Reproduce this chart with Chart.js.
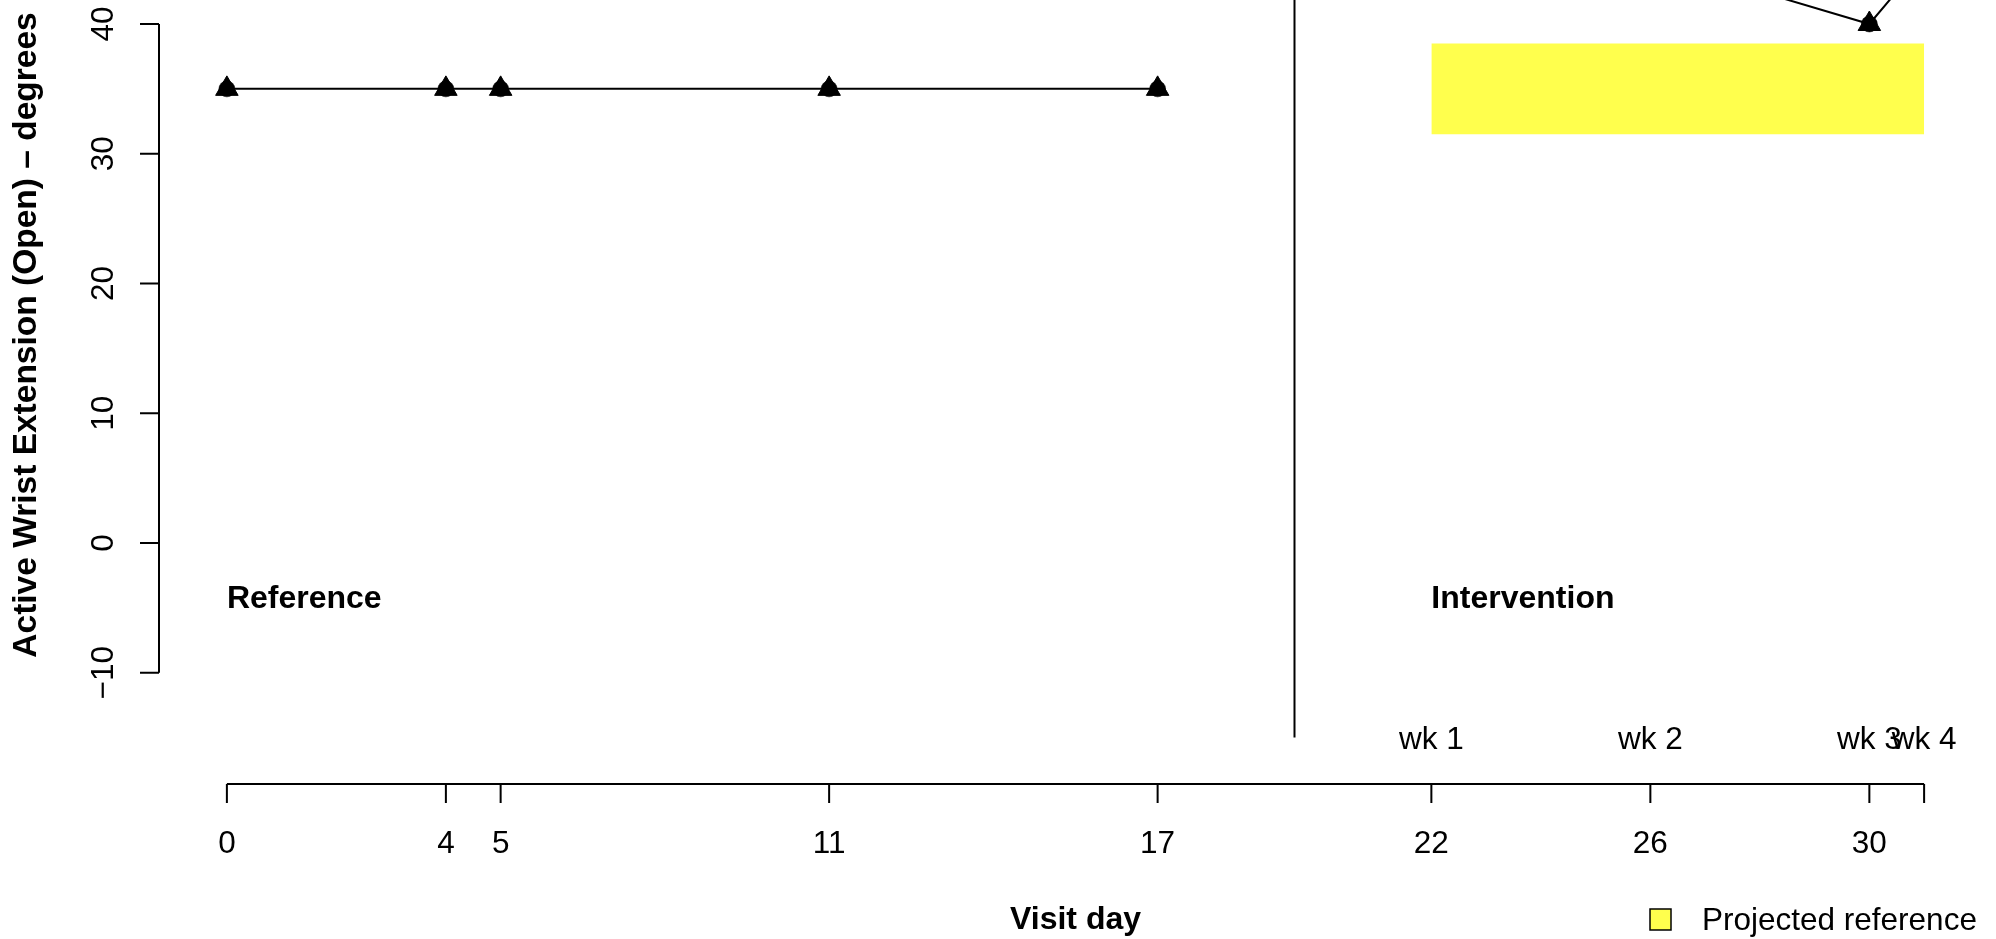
<!DOCTYPE html>
<html>
<head>
<meta charset="utf-8">
<title>Active Wrist Extension (Open)</title>
<script src="https://cdn.jsdelivr.net/npm/chart.js@4.4.1/dist/chart.umd.min.js"></script>
<style>
  html, body { margin: 0; padding: 0; background: #ffffff; overflow: hidden; }
  canvas { display: block; }
</style>
</head>
<body>
<canvas id="chart" width="1996" height="939"></canvas>
<script>
// Visit days and measured active wrist extension (degrees)
const referenceDays = [0, 4, 5, 11, 17];
const referenceValues = [35, 35, 35, 35, 35];
const interventionDays = [22, 26, 30, 31];
const interventionValues = [45, 45, 40, 45];

// Projected reference band carried over the intervention phase
const bandDays = [22, 31];
const bandLow = [31.5, 31.5];
const bandHigh = [38.5, 38.5];

// Phase change line
const phaseChangeDays = [19.5, 19.5];
const phaseChangeValues = [-15, 60];

// Axis ticks and annotations
const xTickDays = [0, 4, 5, 11, 17, 22, 26, 30, 31];
const xTickLabels = ['0', '4', '5', '11', '17', '22', '26', '30', ''];
const yTicks = [-10, 0, 10, 20, 30, 40];
const weekDays = [22, 26, 30, 31];
const weekLabels = ['wk 1', 'wk 2', 'wk 3', 'wk 4'];
const weekLabelValue = -15;
const phaseLabelDays = [0, 22];
const phaseLabels = ['Reference', 'Intervention'];
const phaseLabelValue = -4.2;

const xTitle = 'Visit day';
const yTitle = 'Active Wrist Extension (Open) \u2013 degrees';
const legendLabel = 'Projected reference';

const BAND_COLOR = '#FFFF4D';
const FONT = '"Liberation Sans", Arial, Helvetica, sans-serif';
const REGULAR = '31.5px ' + FONT;
const BOLD = 'bold 32px ' + FONT;

const toPoints = (xs, ys) => xs.map((d, i) => ({ x: d, y: ys[i] }));

// Axes, tick labels, titles and legend drawn in base-graphics style
const baseAxes = {
  id: 'baseAxes',
  afterDraw(chart) {
    const { ctx, chartArea } = chart;
    const x = chart.scales.x;
    const y = chart.scales.y;
    ctx.save();
    ctx.strokeStyle = '#000';
    ctx.fillStyle = '#000';
    ctx.lineWidth = 2;

    // bottom axis
    const axisY = chartArea.bottom;
    ctx.beginPath();
    ctx.moveTo(x.getPixelForValue(xTickDays[0]), axisY);
    ctx.lineTo(x.getPixelForValue(xTickDays[xTickDays.length - 1]), axisY);
    xTickDays.forEach(d => {
      const px = x.getPixelForValue(d);
      ctx.moveTo(px, axisY);
      ctx.lineTo(px, axisY + 19);
    });
    ctx.stroke();
    ctx.font = REGULAR;
    ctx.textAlign = 'center';
    ctx.textBaseline = 'alphabetic';
    xTickDays.forEach((d, i) => {
      ctx.fillText(xTickLabels[i], x.getPixelForValue(d), axisY + 69);
    });

    // left axis
    const axisX = chartArea.left;
    ctx.beginPath();
    ctx.moveTo(axisX, y.getPixelForValue(yTicks[0]));
    ctx.lineTo(axisX, y.getPixelForValue(yTicks[yTicks.length - 1]));
    yTicks.forEach(v => {
      const py = y.getPixelForValue(v);
      ctx.moveTo(axisX, py);
      ctx.lineTo(axisX - 19, py);
    });
    ctx.stroke();
    yTicks.forEach(v => {
      ctx.save();
      ctx.translate(axisX - 46, y.getPixelForValue(v));
      ctx.rotate(-Math.PI / 2);
      ctx.fillText(String(v).replace('-', '\u2212'), 0, 0);
      ctx.restore();
    });

    // week labels
    ctx.textAlign = 'center';
    weekDays.forEach((d, i) => {
      ctx.fillText(weekLabels[i], x.getPixelForValue(d), y.getPixelForValue(weekLabelValue) + 11);
    });

    // phase labels
    ctx.font = BOLD;
    ctx.textAlign = 'left';
    phaseLabelDays.forEach((d, i) => {
      ctx.fillText(phaseLabels[i], x.getPixelForValue(d), y.getPixelForValue(phaseLabelValue) + 11);
    });

    // axis titles
    ctx.textAlign = 'center';
    ctx.fillText(xTitle, (chartArea.left + chartArea.right) / 2, 929);
    ctx.save();
    ctx.translate(36, 335);
    ctx.rotate(-Math.PI / 2);
    ctx.font = 'bold 33.5px ' + FONT;
    ctx.fillText(yTitle, 0, 0);
    ctx.restore();

    // legend
    ctx.fillStyle = BAND_COLOR;
    ctx.fillRect(1650, 909, 21, 21);
    ctx.lineWidth = 1.5;
    ctx.strokeRect(1650, 909, 21, 21);
    ctx.fillStyle = '#000';
    ctx.font = REGULAR;
    ctx.textAlign = 'left';
    ctx.fillText(legendLabel, 1702, 930);
    ctx.restore();
  }
};

const markerTriangle = {
  showLine: true,
  borderColor: '#000',
  borderWidth: 2,
  pointStyle: 'triangle',
  pointRadius: 13,
  pointBackgroundColor: '#000',
  pointBorderColor: '#000',
  pointBorderWidth: 1
};
const markerCircle = {
  showLine: false,
  pointStyle: 'circle',
  pointRadius: 8,
  pointBackgroundColor: '#000',
  pointBorderColor: '#000',
  pointBorderWidth: 0.5
};

new Chart(document.getElementById('chart'), {
  type: 'scatter',
  data: {
    datasets: [
      Object.assign({ label: 'Reference', data: toPoints(referenceDays, referenceValues), order: 1 }, markerTriangle),
      Object.assign({ label: 'Reference centre', data: toPoints(referenceDays, referenceValues), order: 0 }, markerCircle),
      Object.assign({ label: 'Intervention', data: toPoints(interventionDays, interventionValues), order: 1 }, markerTriangle),
      Object.assign({ label: 'Intervention centre', data: toPoints(interventionDays, interventionValues), order: 0 }, markerCircle),
      {
        label: 'Phase change',
        data: toPoints(phaseChangeDays, phaseChangeValues),
        showLine: true,
        borderColor: '#000',
        borderWidth: 2,
        pointRadius: 0,
        order: 5
      },
      {
        label: 'Projected upper',
        data: toPoints(bandDays, bandHigh),
        showLine: true,
        borderColor: 'rgba(0,0,0,0)',
        borderWidth: 1,
        pointRadius: 0,
        fill: false,
        order: 10
      },
      {
        label: legendLabel,
        data: toPoints(bandDays, bandLow),
        showLine: true,
        borderColor: 'rgba(0,0,0,0)',
        borderWidth: 1,
        pointRadius: 0,
        backgroundColor: BAND_COLOR,
        fill: '-1',
        order: 10
      }
    ]
  },
  options: {
    responsive: false,
    animation: false,
    devicePixelRatio: 1,
    events: [],
    layout: { autoPadding: false, padding: { left: 159, right: 4, top: 0, bottom: 155 } },
    scales: {
      x: { type: 'linear', min: -1.24, max: 32.24, display: false },
      y: { type: 'linear', min: -18.58, max: 41.85, display: false }
    },
    plugins: {
      legend: { display: false },
      tooltip: { enabled: false },
      filler: { propagate: false }
    },
    elements: { line: { tension: 0 } }
  },
  plugins: [baseAxes]
});
</script>
</body>
</html>
